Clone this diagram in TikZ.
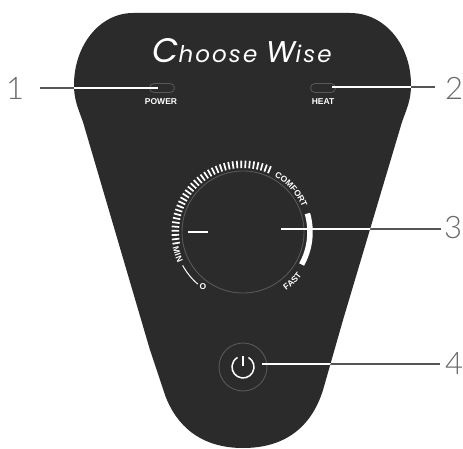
\documentclass[tikz,border=0pt]{standalone}
\usepackage{fontspec}
\usepackage{xcolor}
\usetikzlibrary{
  calc,
  decorations.text
}
\newfontfamily\numfont{Lato Light}
\newfontfamily\logofont[LetterSpace=9]{Poppins Italic}
\newfontfamily\panelfont{Liberation Sans}
\definecolor{bodyclr}{RGB}{43, 43, 43}
\definecolor{ringclr}{RGB}{88, 88, 88}
\definecolor{leadclr}{RGB}{85, 85, 85}
\definecolor{numclr}{RGB}{105,105,105}
\newcommand{\dialfont}{\panelfont\bfseries\fontsize{8.5}{9}\selectfont\color{white}}
\tikzset{
  % Panel
  panelbody/.style = {fill=bodyclr},
  ring/.style      = {draw=ringclr, line width=0.9pt},
  lamp/.style      = {draw=ringclr, line width=0.8pt, rounded corners=4.5pt, minimum width=25pt, minimum height=9pt, inner sep=0pt},
  % Lead lines
  leadout/.style   = {draw=leadclr, line width=2.2pt},
  leadin/.style    = {draw=white, line width=2.2pt},
  % Labels
  numlab/.style    = {font=\numfont\fontsize{31}{31}\selectfont, text=numclr, inner sep=0pt},
  paneltxt/.style  = {font=\panelfont\bfseries\fontsize{8.5}{9}\selectfont, text=white, inner sep=0pt},
  arctxt/.style    = {decorate, decoration={text along path, text align=center, text={#1}}},
}
\begin{document}
\begin{tikzpicture}[x=1pt,y=-1pt]
  \useasboundingbox (0,0) rectangle (463,449);
  % Body
  \def\bodypath{(133,13) -- (350,13) .. controls (385,13) and (411,45) .. (411,85)
    .. controls (411,100) and (407,108) .. (402,122) -- (343,320) -- (323,390)
    .. controls (313,422) and (290,448) .. (243,448)
    .. controls (200,448) and (176,425) .. (165,395) -- (150,350) -- (83,122)
    .. controls (78,108) and (74,100) .. (74,85)
    .. controls (74,45) and (100,13) .. (133,13) -- cycle}
  \fill[panelbody] \bodypath;
  % Lamps
  \node[lamp] (power) at (162,88) {};
  \node[lamp] (heat) at (323,88) {};
  \node[paneltxt] (powertxt) at (161,102) {POWER};
  \node[paneltxt] (heattxt) at (323,102) {HEAT};
  % Logo
  \node[font=\logofont\fontsize{23}{23}\selectfont, text=white, inner sep=0pt] (logo) at (242,51) {{\fontsize{34}{34}\selectfont C}hoose {\fontsize{30}{30}\selectfont W}ise};
  % Dial
  \coordinate (dial) at (243,232);
  \draw[ring] (dial) circle (61);
  \foreach \ang in {-67,-70.5,...,-192}
    \draw[white, line width=1.7pt] ($(dial)+(\ang:64)$) -- ($(dial)+(\ang:71.5)$);
  \draw[white, line width=5.5pt] ($(dial)+(-16:67)$) arc[start angle=-16, end angle=29, radius=67];
  \draw[white, line width=1pt] ($(dial)+(151:69)$) arc[start angle=151, end angle=131, radius=69];
  \path[arctxt={|\dialfont|COMFORT}] ($(dial)+(-66:64)$) arc[start angle=-66, end angle=-17, radius=64];
  \path[arctxt={|\dialfont|FAST}] ($(dial)+(64:73)$) arc[start angle=64, end angle=26, radius=73];
  \path[arctxt={|\dialfont|MIN}] ($(dial)+(179:72)$) arc[start angle=179, end angle=143, radius=72];
  \node[paneltxt] (zero) at (203,287) {O};
  \draw[white, line width=2.4pt] (188,232) -- (208,232);
  \coordinate (pointer) at (281,229);
  % Power button
  \coordinate (button) at (243,367);
  \draw[ring] (button) circle (24);
  \draw[white, line width=1.5pt] ($(button)+(-60:11)$) arc[start angle=-60, end angle=240, radius=11];
  \draw[white, line width=1.5pt] ($(button)+(0,-11)$) -- ($(button)+(0,-1)$);
  \coordinate (btnend) at (262,364);
  % Numbers
  \node[numlab] (n1) at (15,88) {1};
  \node[numlab] (n2) at (454,88) {2};
  \node[numlab] (n3) at (453,228) {3};
  \node[numlab] (n4) at (454,364) {4};
  % Lead lines
  \coordinate (a1) at (40,88);
  \coordinate (e1) at (158,88);
  \coordinate (a2) at (435,87);
  \coordinate (e2) at (332,87);
  \coordinate (a3) at (441,229);
  \coordinate (a4) at (440,364);
  \draw[leadout] (a1) -- (e1);
  \draw[leadout] (a2) -- (e2);
  \draw[leadout] (a3) -- (pointer);
  \draw[leadout] (a4) -- (btnend);
  \begin{scope}
    \clip \bodypath;
    \draw[leadin] (a1) -- (e1);
    \draw[leadin] (a2) -- (e2);
    \draw[leadin] (a3) -- (pointer);
    \draw[leadin] (a4) -- (btnend);
  \end{scope}
\end{tikzpicture}
\end{document}
